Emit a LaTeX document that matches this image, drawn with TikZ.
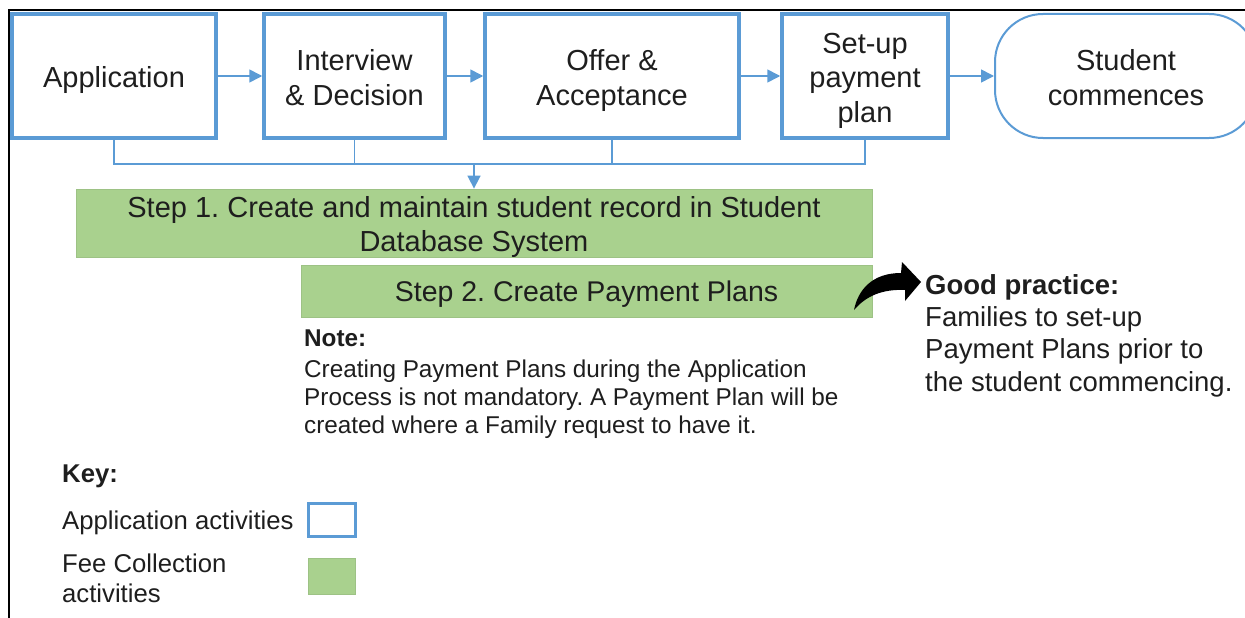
\documentclass[tikz,border=0pt]{standalone}
\usepackage{fontspec}
\setmainfont{Liberation Sans}
\usetikzlibrary{arrows.meta}
\definecolor{appblue}{HTML}{5B9BD5}
\definecolor{feegreen}{HTML}{A9D18E}
\definecolor{feeedge}{HTML}{9DC285}
\definecolor{txt}{HTML}{1E1E1E}
\frenchspacing
\begin{document}
\begin{tikzpicture}[x=1pt,y=-1pt,
  appbox/.style={draw=appblue, line width=3.5pt, fill=white, inner sep=0pt, minimum height=124pt},
  feebox/.style={draw=feeedge, line width=0.8pt, fill=feegreen, inner sep=0pt},
  boxtext/.style={inner sep=0pt, anchor=base, align=center, text=txt, font=\fontsize{29}{35}\selectfont},
  flow/.style={draw=appblue, line width=1.6pt, -{Triangle[length=13pt,width=13pt]}},
  link/.style={draw=appblue, line width=1.6pt},
  para/.style={inner sep=0pt, anchor=base west, align=left, text=txt},
]
\useasboundingbox (0,0) rectangle (1245,618);
\clip (0,0) rectangle (1245,618);
\draw[line width=2pt] (9,618) -- (9,10) -- (1245,10);

% top flow boxes
\node[appbox, minimum width=204pt] (app) at (114,76) {};
\node[appbox, minimum width=181pt] (int) at (354.5,76) {};
\node[appbox, minimum width=254pt] (off) at (612,76) {};
\node[appbox, minimum width=166pt] (set) at (865,76) {};
\node[appbox, line width=2pt, minimum width=262pt, rounded corners=48pt] (stu) at (1126,76) {};

\node[boxtext] (appT) at (114,87.5) {Application};
\node[boxtext] (intT) at (354.5,105) {Interview\\\& Decision};
\node[boxtext] (offT) at (612,105) {Offer \&\\Acceptance};
\node[boxtext, font=\fontsize{29}{34.5}\selectfont] (setT) at (865,122) {Set-up\\payment\\plan};
\node[boxtext] (stuT) at (1126,105) {Student\\commences};

\draw[flow] (app) -- (int);
\draw[flow] (int) -- (off);
\draw[flow] (off) -- (set);
\draw[flow] (set) -- (stu);

% step boxes
\node[feebox, minimum width=796pt, minimum height=68pt] (s1) at (474,223) {};
\node[feebox, minimum width=571pt, minimum height=52pt] (s2) at (586.5,291) {};
\node[boxtext, font=\fontsize{29}{33.5}\selectfont] (s1T) at (474,251)
  {Step 1. Create and maintain student record in Student\\Database System};
\node[boxtext, font=\fontsize{28.5}{33}\selectfont] (s2T) at (586.5,301.5)
  {Step 2. Create Payment Plans};

% bracket
\coordinate (bar) at (0,164);
\draw[link] (app.south) -- (app.south |- bar) -- (set.south |- bar) -- (set.south);
\draw[link] (int.south) -- (int.south |- bar);
\draw[link] (off.south) -- (off.south |- bar);
\draw[flow] (s1.north |- bar) -- (s1.north);

% note
\node[para, font=\fontsize{24.3}{28}\selectfont] (note) at (304,433)
  {\textbf{Note:}\\[3pt]Creating Payment Plans during the Application\\Process is not mandatory. A Payment Plan will be\\created where a Family request to have it.};

% good practice
\node[para, font=\fontsize{27.5}{32.3}\selectfont] (good) at (925,391)
  {\textbf{Good practice:}\\Families to set-up\\Payment Plans prior to\\the student commencing.};
\fill[black] (854,310) .. controls (858,290) and (872,273) .. (901,273) -- (902,262) -- (921,282)
  -- (905,301) -- (905,290) .. controls (882,289) and (866,296) .. (854,310) -- cycle;

% key
\node[para, font=\fontsize{25.7}{30}\selectfont] (key) at (62,482) {\textbf{Key:}};
\node[para, font=\fontsize{25.7}{30}\selectfont] (k1) at (62,529) {Application activities};
\node[para, font=\fontsize{25.7}{30}\selectfont] (k2) at (62,602) {Fee Collection\\activities};
\node[draw=appblue, line width=3pt, minimum width=47pt, minimum height=33pt, inner sep=0pt] (kb) at (332,520) {};
\node[feebox, minimum width=47pt, minimum height=36pt] (kg) at (331.5,576) {};
\end{tikzpicture}
\end{document}
